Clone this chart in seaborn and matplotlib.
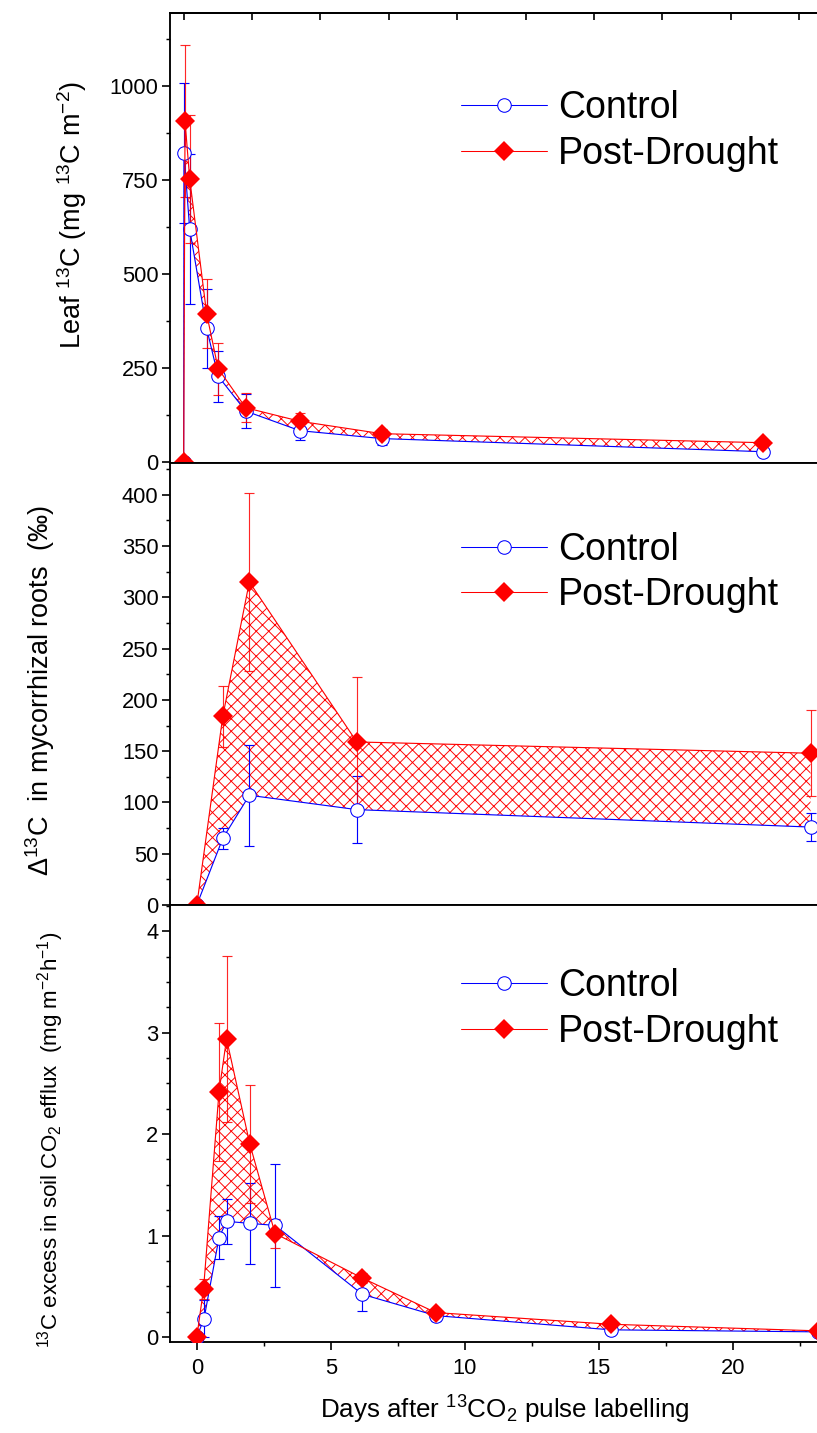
import numpy as np
import pandas as pd
import matplotlib
matplotlib.use("Agg")
import matplotlib.pyplot as plt
import seaborn as sns
from matplotlib.ticker import MultipleLocator
from matplotlib.lines import Line2D
from matplotlib import font_manager

# ---------------- data ----------------
# Panel 1: leaf 13C (mg 13C m-2)
leaf_days_ctrl = [0.0, 0.01, 0.22, 0.84, 1.26, 2.27, 4.25, 7.24, 21.2]
leaf_ctrl = [0, 823, 620, 356, 229, 136, 84, 63, 28]
leaf_ctrl_err = [0, 187, 200, 105, 68, 46, 26, 18, 8]
leaf_days_pd = [0.0, 0.05, 0.22, 0.84, 1.26, 2.27, 4.25, 7.24, 21.2]
leaf_pd = [0, 907, 754, 395, 249, 145, 109, 76, 52]
leaf_pd_err = [0, 202, 170, 92, 69, 38, 22, 12, 8]

# Panel 2: delta 13C in mycorrhizal roots (permil)
root_days = [0.0, 0.97, 1.96, 5.97, 22.9]
root_ctrl = [0, 65, 107, 93, 76]
root_ctrl_err = [0, 10.5, 49, 33, 13.5]
root_pd = [0, 184, 315, 159, 148]
root_pd_err = [0, 29.5, 87, 63, 42]

# Panel 3: 13C excess in soil CO2 efflux (mg m-2 h-1)
soil_days_ctrl = [0.0, 0.27, 0.83, 1.11, 1.98, 2.92, 6.18, 8.92, 15.45, 23.17]
soil_ctrl = [0, 0.18, 0.98, 1.14, 1.12, 1.10, 0.42, 0.21, 0.07, 0.05]
soil_ctrl_err = [0, 0.18, 0.21, 0.22, 0.40, 0.61, 0.16, 0.05, 0.03, 0.02]
soil_days_pd = [0.0, 0.25, 0.83, 1.11, 1.98, 2.92, 6.18, 8.92, 15.45, 23.17]
soil_pd = [0, 0.47, 2.42, 2.94, 1.90, 1.02, 0.58, 0.24, 0.125, 0.06]
soil_pd_err = [0, 0.10, 0.68, 0.82, 0.58, 0.14, 0.05, 0.04, 0.03, 0.02]

series_labels = ["Control", "Post-Drought"]
ylabels = [
    "Leaf $^{13}$C (mg $^{13}$C m$^{-2}$)",
    "\u0394$^{13}$C  in mycorrhizal roots  (\u2030)",
    "$^{13}$C excess in soil CO$_2$ efflux  (mg m$^{-2}$h$^{-1}$)",
]
xlabel = "Days after $^{13}$CO$_2$ pulse labelling"

# ---------------- style ----------------
sns.set_theme(style="ticks")
plt.rcParams["font.family"] = ["Liberation Sans", "DejaVu Sans"]
plt.rcParams["mathtext.fontset"] = "custom"
plt.rcParams["mathtext.rm"] = "Liberation Sans"
plt.rcParams["mathtext.it"] = "Liberation Sans:italic"
plt.rcParams["mathtext.bf"] = "Liberation Sans:bold"
plt.rcParams["hatch.color"] = "red"
plt.rcParams["hatch.linewidth"] = 0.9
for k in ["text.color", "axes.labelcolor", "xtick.color", "ytick.color", "axes.edgecolor"]:
    plt.rcParams[k] = "black"

installed = {f.name for f in font_manager.fontManager.ttflist}
narrow_ok = "Liberation Sans Narrow" in installed

DPI = 75
W, H = 817, 1433
fig = plt.figure(figsize=(W / DPI, H / DPI), dpi=DPI)

left_px, right_px = 170, 840
panels_px = [(13, 463), (463, 905), (905, 1342)]
axes = []
for top, bot in panels_px:
    ax = fig.add_axes([left_px / W, (H - bot) / H, (right_px - left_px) / W, (bot - top) / H])
    axes.append(ax)

BLUE = "#0000FF"
RED = "#FF0000"


def draw_panel(ax, xc, yc, ec, xp, yp, ep):
    # hatched region between curves
    poly_x = np.r_[np.asarray(xp, float), np.asarray(xc, float)[::-1]]
    poly_y = np.r_[np.asarray(yp, float), np.asarray(yc, float)[::-1]]
    ax.fill(poly_x, poly_y, facecolor="none", edgecolor=RED, hatch="xx",
            linewidth=0, zorder=1)
    # error bars (only where non-zero)
    for xs, ys, es, col, al in [(xc, yc, ec, BLUE, 1.0), (xp, yp, ep, RED, 0.85)]:
        xs, ys, es = map(np.asarray, (xs, ys, es))
        m = es > 0
        ax.errorbar(xs[m], ys[m], yerr=es[m], fmt="none", ecolor=col, elinewidth=1.1,
                    capsize=5, capthick=1.1, alpha=al, zorder=2)
    dfc = pd.DataFrame({"day": xc, "val": yc})
    dfp = pd.DataFrame({"day": xp, "val": yp})
    sns.lineplot(data=dfc, x="day", y="val", ax=ax, color=BLUE, linewidth=1.1,
                 marker="o", markersize=13, markerfacecolor="white",
                 markeredgecolor=BLUE, markeredgewidth=1, sort=False,
                 errorbar=None, zorder=3, legend=False)
    sns.lineplot(data=dfp, x="day", y="val", ax=ax, color=RED, linewidth=1.1,
                 marker="D", markersize=13.5, markerfacecolor=RED,
                 markeredgecolor=RED, markeredgewidth=0, sort=False,
                 errorbar=None, zorder=4, legend=False)


draw_panel(axes[0], leaf_days_ctrl, leaf_ctrl, leaf_ctrl_err,
           leaf_days_pd, leaf_pd, leaf_pd_err)
draw_panel(axes[1], root_days, root_ctrl, root_ctrl_err,
           root_days, root_pd, root_pd_err)
draw_panel(axes[2], soil_days_ctrl, soil_ctrl, soil_ctrl_err,
           soil_days_pd, soil_pd, soil_pd_err)

# axis limits & ticks
axes[0].set_xlim(-0.5, 24)
axes[0].set_ylim(-2, 1195)
axes[0].yaxis.set_major_locator(MultipleLocator(250))
axes[0].yaxis.set_minor_locator(MultipleLocator(125))

axes[1].set_xlim(-1, 24)
axes[1].set_ylim(0, 431)
axes[1].yaxis.set_major_locator(MultipleLocator(50))
axes[1].yaxis.set_minor_locator(MultipleLocator(25))

axes[2].set_xlim(-1, 24)
axes[2].set_ylim(-0.05, 4.26)
axes[2].yaxis.set_major_locator(MultipleLocator(1))
axes[2].yaxis.set_minor_locator(MultipleLocator(0.25))

label_pos = [(-0.146, 0.551), (-0.194, 0.486), (-0.178, 0.462)]
if narrow_ok:
    label_size = [26, 26, 25]
    label_family = [["Liberation Sans"], ["Liberation Sans"],
                    ["Liberation Sans Narrow", "Liberation Sans"]]
else:
    label_size = [26, 26, 21.5]
    label_family = [["Liberation Sans"]] * 3
leg_pos = [(0.434, 0.828), (0.434, 0.844), (0.434, 0.855)]

for i, ax in enumerate(axes):
    ax.xaxis.set_major_locator(MultipleLocator(5))
    ax.xaxis.set_minor_locator(MultipleLocator(2.5))
    for s in ["left", "top", "bottom", "right"]:
        ax.spines[s].set_linewidth(1.8)
        ax.spines[s].set_color("black")
    ax.tick_params(axis="both", which="major", direction="out", length=8,
                   width=1.6, labelsize=21, color="black", labelcolor="black", pad=3)
    ax.tick_params(axis="both", which="minor", direction="out", length=4,
                   width=1.4, color="black")
    ax.tick_params(axis="x", which="major", pad=7)
    ax.tick_params(top=False, right=False)
    if i < 2:
        ax.tick_params(axis="x", labelbottom=False)
        ax.set_xlabel("")
    else:
        ax.set_xlabel(xlabel, fontsize=25, labelpad=15, color="black")
    ax.set_ylabel(ylabels[i], fontsize=label_size[i], va="center", color="black",
                  family=label_family[i])
    ax.yaxis.set_label_coords(*label_pos[i])
    ax.grid(False)

    handles = [
        Line2D([], [], color=BLUE, linewidth=1, marker="o", markersize=13,
               markerfacecolor="white", markeredgecolor=BLUE, markeredgewidth=1),
        Line2D([], [], color=RED, linewidth=1, marker="D", markersize=13.5,
               markerfacecolor=RED, markeredgecolor=RED, markeredgewidth=0),
    ]
    leg = ax.legend(handles, series_labels, loc="upper left", bbox_to_anchor=leg_pos[i],
                    frameon=False, fontsize=36, handlelength=2.3, handletextpad=0.3,
                    labelspacing=0.25, borderpad=0, borderaxespad=0)
    for t in leg.get_texts():
        t.set_color("black")

# inward ticks along the top of the upper panel
sec = axes[0].secondary_xaxis("top")
sec.xaxis.set_major_locator(MultipleLocator(2.5))
sec.tick_params(axis="x", direction="in", length=7, width=1.6, labeltop=False)
sec.spines["top"].set_linewidth(1.8)

fig.savefig("out.png", dpi=DPI)
